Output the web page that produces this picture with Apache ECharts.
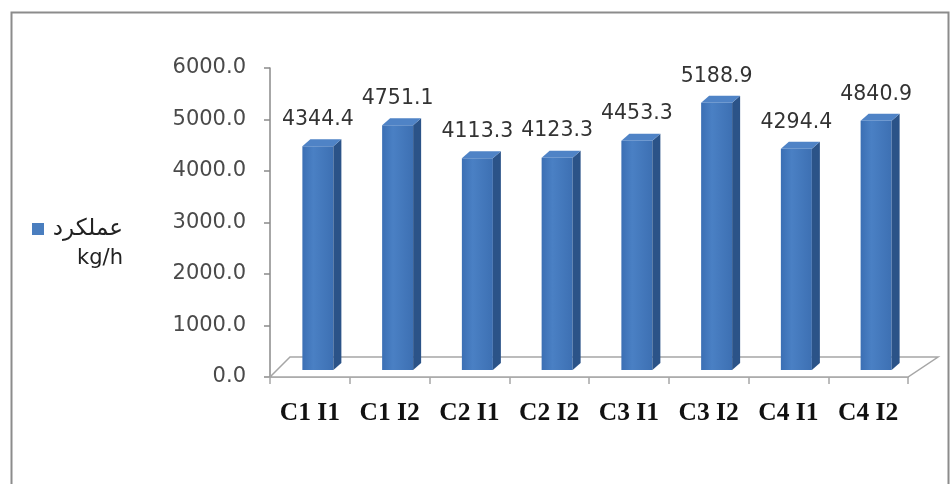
<!DOCTYPE html>
<html><head><meta charset="utf-8">
<script src="https://cdn.jsdelivr.net/npm/echarts@6/dist/echarts.min.js"></script>
<style>html,body{margin:0;padding:0;background:#fff}#c{width:952px;height:484px}</style>
</head><body><div id="c"></div>
<script>
const categories = ['C1 I1', 'C1 I2', 'C2 I1', 'C2 I2', 'C3 I1', 'C3 I2', 'C4 I1', 'C4 I2'];
const yieldValues = [4344.4, 4751.1, 4113.3, 4123.3, 4453.3, 5188.9, 4294.4, 4840.9];
const seriesName = 'عملکرد kg/h';
const legendLine1 = 'عملکرد';
const legendLine2 = 'kg/h';
const yMin = 0, yMax = 6000, yInterval = 1000;

const SET_X = 8, SET_Y = -7;   // bar set back from front plane
const DX = 8, DY = 7;          // bar depth
const BAR_W = 31;

const chart = echarts.init(document.getElementById('c'), null, {renderer: 'canvas'});

function renderBar(params, api) {
  const i = api.value(0), v = api.value(1);
  const top = api.coord([i, v]), base = api.coord([i, 0]);
  const cx = top[0] + SET_X, yt = top[1] + SET_Y, yb = base[1] + SET_Y;
  const L = cx - BAR_W / 2, R = cx + BAR_W / 2;
  return {type: 'group', children: [
    {type: 'rect', shape: {x: L, y: yt, width: BAR_W, height: yb - yt},
     style: {fill: new echarts.graphic.LinearGradient(0, 0, 1, 0, [
       {offset: 0, color: '#3b6fb4'}, {offset: 0.35, color: '#4a80c4'}, {offset: 1, color: '#3d70b3'}])}},
    {type: 'polygon', shape: {points: [[R, yt], [R + DX, yt - DY], [R + DX, yb - DY], [R, yb]]},
     style: {fill: '#2b5388'}},
    {type: 'polygon', shape: {points: [[L, yt], [L + DX, yt - DY], [R + DX, yt - DY], [R, yt]]},
     style: {fill: '#4f83c6'}},
    {type: 'text', style: {text: v.toFixed(1), x: cx, y: yt - DY - 9,
      align: 'center', verticalAlign: 'bottom', fontSize: 20.5, fontFamily: 'DejaVu Sans', fill: '#333'}}
  ]};
}

function renderFloor(params, api) {
  const cs = params.coordSys;
  const x0 = cs.x, x1 = cs.x + cs.width, y0 = cs.y + cs.height;
  return {type: 'polygon', shape: {points: [[x0, y0], [x0 + 20, y0 - 20], [x1 + 30, y0 - 20], [x1, y0]]},
    style: {fill: '#ffffff', stroke: '#a6a6a6', lineWidth: 1.5}, silent: true};
}

chart.setOption({
  animation: false,
  backgroundColor: '#ffffff',
  graphic: [{type: 'rect', left: 9, top: 10, shape: {width: 937, height: 490},
    style: {fill: 'none', stroke: '#8c8c8c', lineWidth: 2}, silent: true, z: 100}],
  grid: {left: 270, right: 44, top: 68, bottom: 107},
  legend: {
    data: [{name: seriesName, icon: 'rect'}],
    left: 32, top: 184, padding: 0, itemWidth: 12, itemHeight: 12, itemGap: 4,
    formatter: () => '{s| }\n{a|' + legendLine1 + '}\n{b|' + legendLine2 + '}',
    textStyle: {
      fontSize: 21, fontFamily: 'DejaVu Sans', color: '#222',
      rich: {
        s: {height: 30, lineHeight: 30, fontSize: 10},
        a: {width: 74, align: 'right', lineHeight: 30, fontSize: 23, fontFamily: 'DejaVu Sans', color: '#222'},
        b: {width: 74, align: 'right', lineHeight: 30, fontSize: 21, fontFamily: 'DejaVu Sans', color: '#222'}
      }
    }
  },
  xAxis: {
    type: 'category', data: categories,
    axisLine: {show: true, lineStyle: {color: '#a6a6a6', width: 1.5}},
    axisTick: {show: true, interval: 0, alignWithLabel: false, length: 7, lineStyle: {color: '#a6a6a6', width: 1.5}},
    axisLabel: {interval: 0, hideOverlap: false, margin: 23, fontSize: 25.5, fontWeight: 'bold',
      fontFamily: 'Liberation Serif', color: '#111'}
  },
  yAxis: {
    type: 'value', min: yMin, max: yMax, interval: yInterval,
    axisLine: {show: true, lineStyle: {color: '#8a8a8a', width: 1.5}},
    axisTick: {show: true, length: 6, lineStyle: {color: '#8a8a8a', width: 1.5}},
    splitLine: {show: false},
    axisLabel: {margin: 24, fontSize: 21, fontFamily: 'DejaVu Sans', color: '#4a4a4a',
      formatter: v => v.toFixed(1)}
  },
  series: [
    {type: 'custom', name: '_floor', renderItem: renderFloor, data: [[0, 0]], z: 1, silent: true, clip: false},
    {type: 'custom', name: seriesName, renderItem: renderBar, itemStyle: {color: '#4a7ebf'},
     encode: {x: 0, y: 1}, data: yieldValues.map((v, i) => [i, v]), z: 5, clip: false}
  ]
});
</script></body></html>
